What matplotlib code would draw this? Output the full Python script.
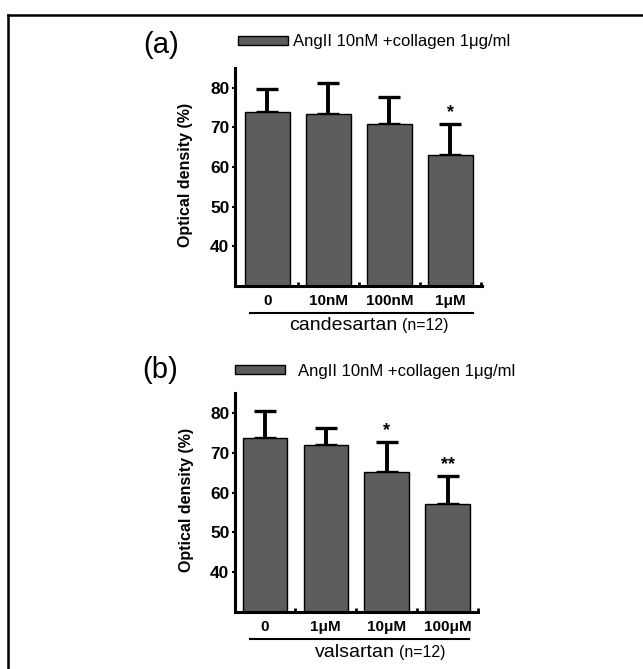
import numpy as np
import matplotlib
matplotlib.use("Agg")
import matplotlib.pyplot as plt
from matplotlib.lines import Line2D

# values
cand_labels = ["0", "10nM", "100nM", "1μM"]
cand_means = [74.0, 73.4, 70.8, 63.1]
cand_err = [5.8, 7.7, 7.0, 7.7]
cand_marks = ["", "", "", "*"]

vals_labels = ["0", "1μM", "10μM", "100μM"]
vals_means = [73.7, 71.9, 65.1, 57.0]
vals_err = [6.7, 4.3, 7.5, 7.1]
vals_marks = ["", "", "*", "**"]

yticks = [40, 50, 60, 70, 80]
legend_text = "AngII 10nM +collagen 1μg/ml"

plt.rcParams['font.family'] = ['Liberation Sans', 'DejaVu Sans']

BAR = "#5c5c5c"
W, H = 643, 669
fig = plt.figure(figsize=(W / 100, H / 100), dpi=100)


def px_axes(l, t, r, b):
    return fig.add_axes([l / W, 1 - b / H, (r - l) / W, (b - t) / H])


def panel(ax, labels, means, err, marks, drug, xlim, legpos, handlepad):
    x = np.arange(len(means))
    ax.bar(x, means, width=0.73, color=BAR, edgecolor="black", linewidth=1.0,
           label=legend_text, zorder=2)
    ax.errorbar(x, means, yerr=[np.zeros(len(err)), err], fmt="none",
                ecolor="black", elinewidth=2.8, capsize=8, capthick=2.4, zorder=1)
    for xi, m, e, s in zip(x, means, err, marks):
        if s:
            ax.text(xi, m + e + 0.8, s, ha="center", va="bottom",
                    fontsize=13, fontweight="bold")
    ax.set_ylim(30, 85)
    ax.set_xlim(*xlim)
    ax.set_yticks(yticks)
    ax.set_yticklabels([str(t) for t in yticks], fontsize=12.5, fontweight="bold")
    ax.set_xticks(x)
    ax.set_xticklabels(labels, fontsize=11, fontweight="bold")
    ax.set_xticks(x + 0.5, minor=True)
    ax.tick_params(axis="x", which="major", length=0, pad=6)
    ax.tick_params(axis="x", which="minor", direction="in", length=3, width=2)
    ax.tick_params(axis="y", direction="out", length=2, width=1.5, pad=2)
    for s in ["top", "right"]:
        ax.spines[s].set_visible(False)
    for s in ["left", "bottom"]:
        ax.spines[s].set_linewidth(2.2)
    ax.set_ylabel("Optical density (%)", fontsize=11.5, fontweight="bold")
    ax.yaxis.set_label_coords(-0.17, 0.51)
    ax.legend(loc="center left", bbox_to_anchor=legpos, frameon=False,
              fontsize=12, handlelength=3.0, handleheight=0.5,
              handletextpad=handlepad, borderpad=0, borderaxespad=0)
    ax.plot([0.06, 0.965], [-0.124, -0.124], transform=ax.transAxes,
            color="black", linewidth=1.5, clip_on=False)
    ax.text(0.656, -0.183, drug, transform=ax.transAxes, ha="right",
            va="center", fontsize=14)
    ax.text(0.675, -0.183, "(n=12)", transform=ax.transAxes, ha="left",
            va="center", fontsize=11.5)


ax_a = px_axes(235, 68, 482, 286)
panel(ax_a, cand_labels, cand_means, cand_err, cand_marks, "candesartan",
      (-0.53, 3.52), (0.012, 1.12), 0.3)

ax_b = px_axes(235, 393, 478, 612)
panel(ax_b, vals_labels, vals_means, vals_err, vals_marks, "valsartan",
      (-0.49, 3.49), (0.0, 1.1), 0.8)

fig.text(161 / W, 1 - 45 / H, "(a)", ha="center", va="center", fontsize=21)
fig.text(160 / W, 1 - 370 / H, "(b)", ha="center", va="center", fontsize=21)

# page frame (top and left edges only)
fig.add_artist(Line2D([8 / W, 1], [1 - 15 / H, 1 - 15 / H], color="black", linewidth=1.8))
fig.add_artist(Line2D([8 / W, 8 / W], [0, 1 - 15 / H], color="black", linewidth=1.8))

fig.savefig("out.png", dpi=100)
